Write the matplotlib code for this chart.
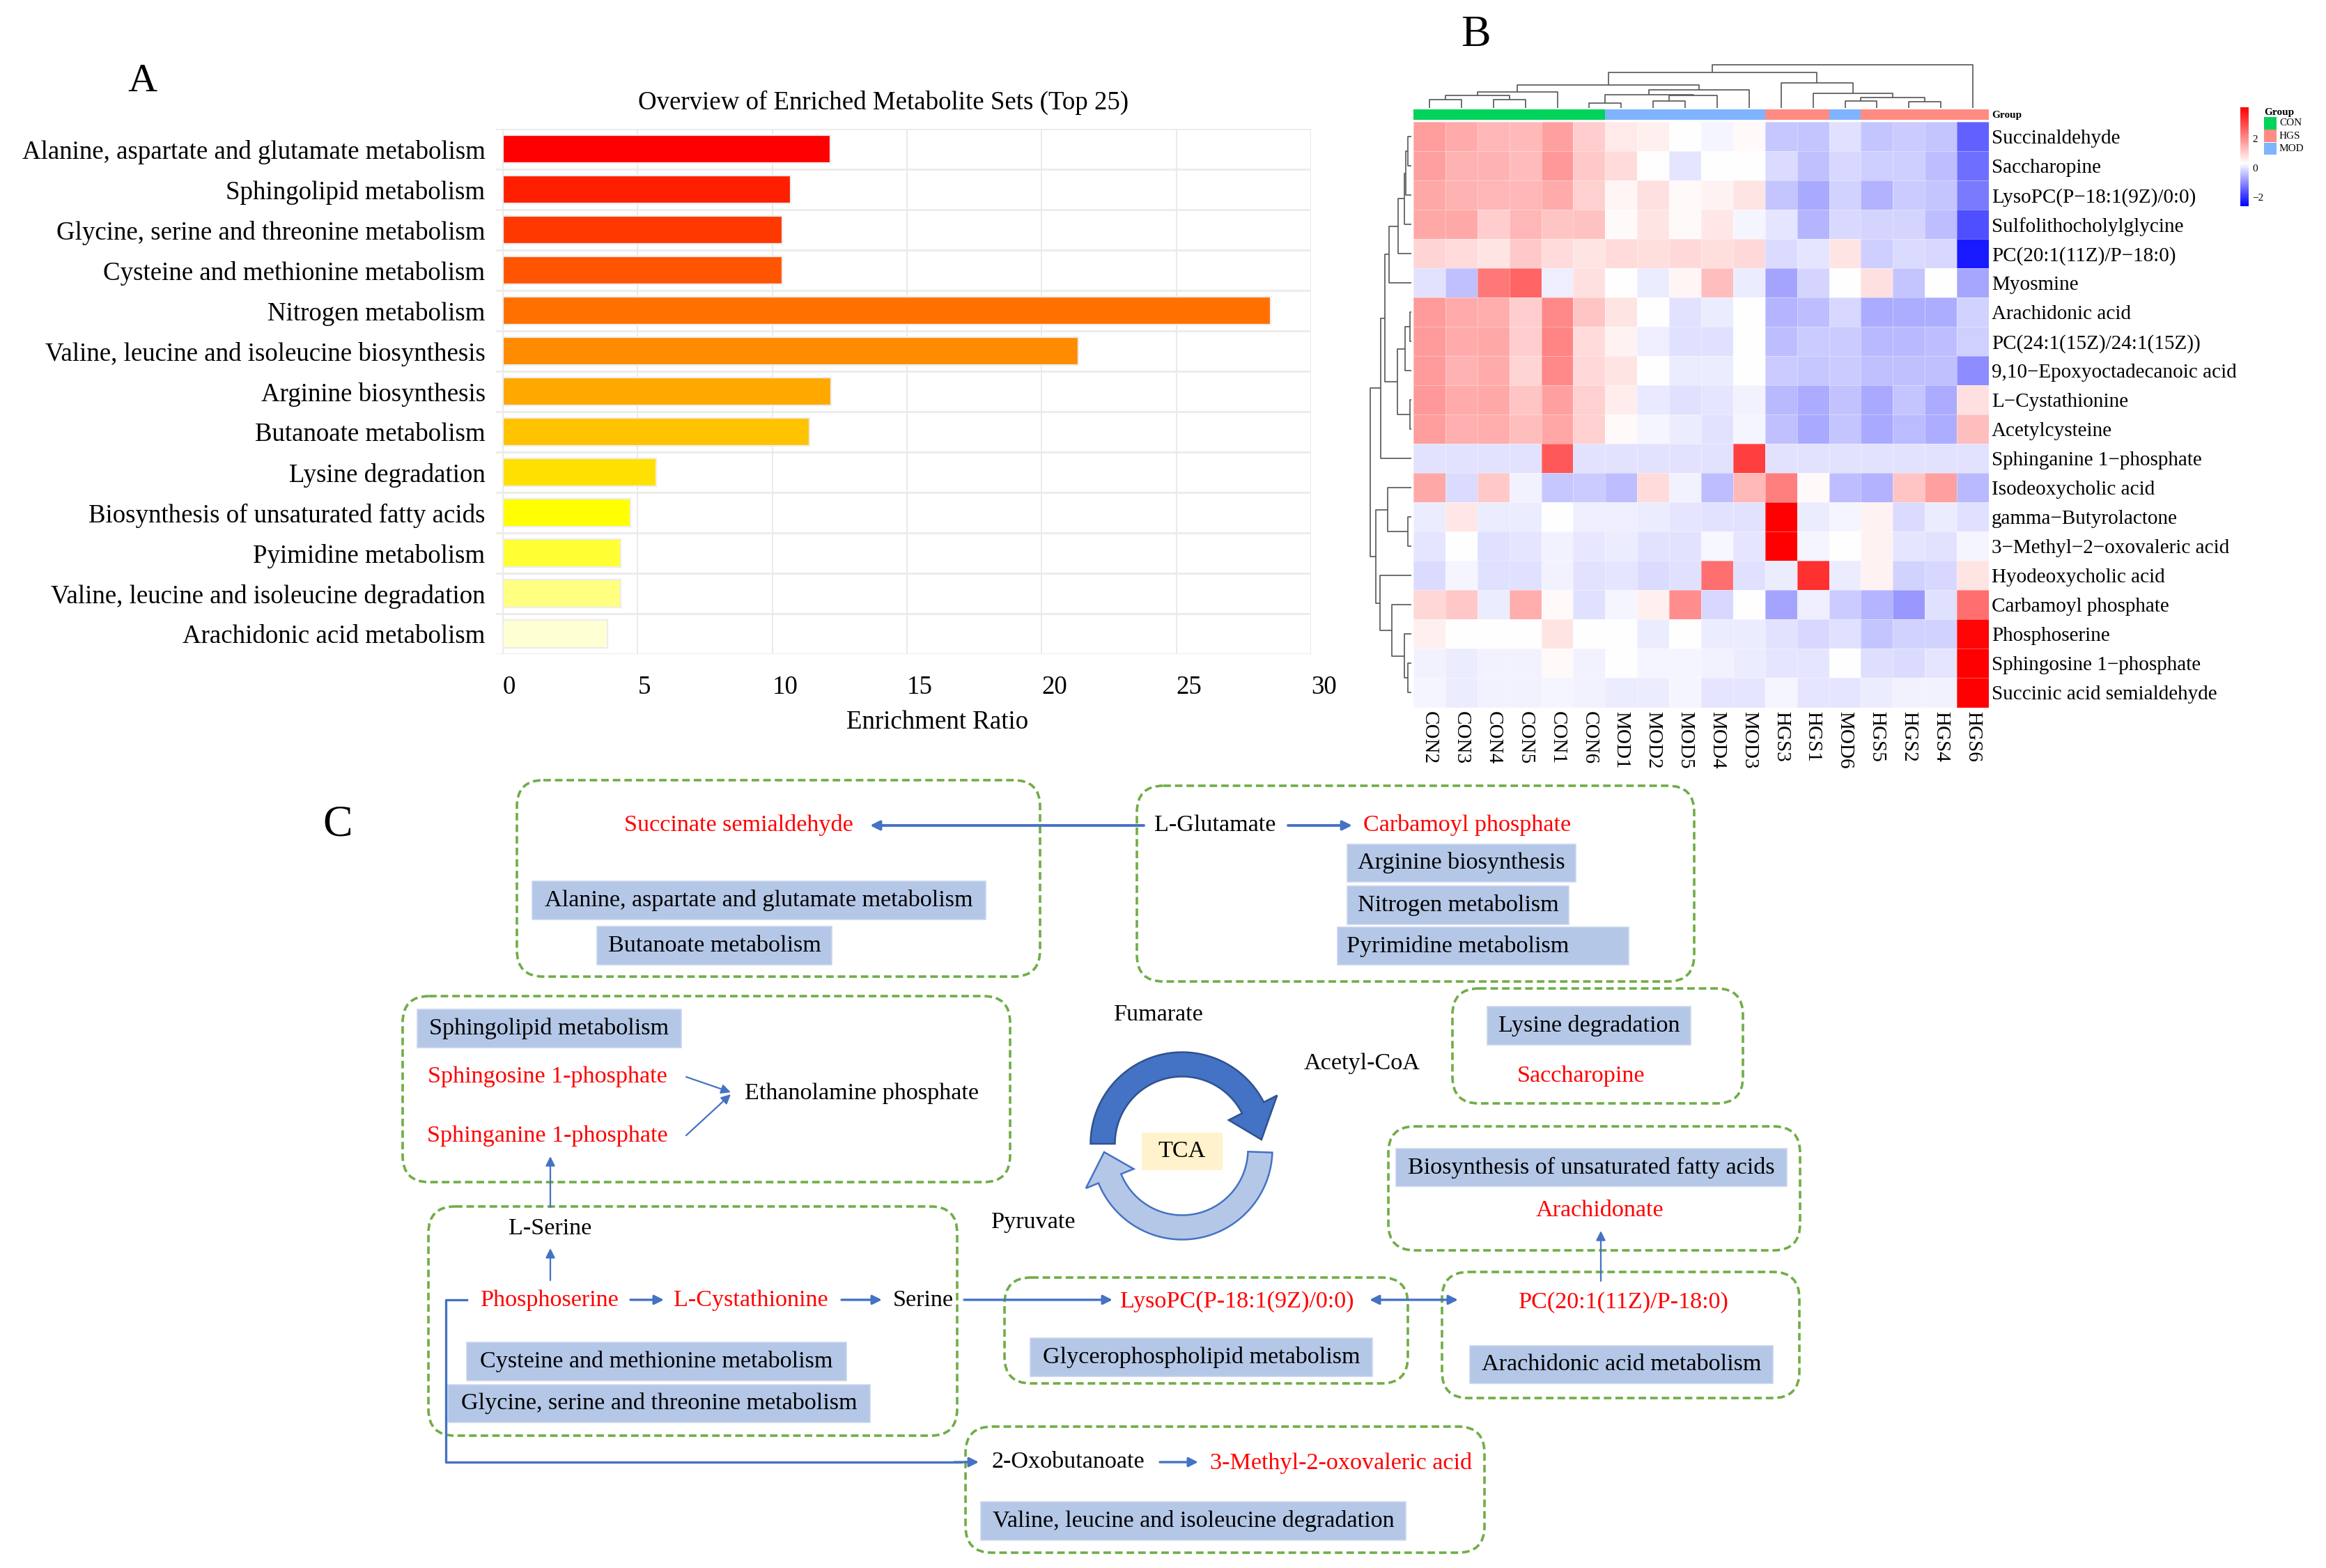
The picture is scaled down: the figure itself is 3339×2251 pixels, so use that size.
import numpy as np
import matplotlib
matplotlib.use('Agg')
import matplotlib.pyplot as plt
from matplotlib.colors import LinearSegmentedColormap, Normalize
from matplotlib.cm import ScalarMappable
from matplotlib.patches import FancyBboxPatch, Rectangle, Polygon

plt.rcParams['font.family'] = ['Liberation Serif', 'DejaVu Serif']

# ---------------- data: panel A ----------------
pathways = ["Alanine, aspartate and glutamate metabolism", "Sphingolipid metabolism",
            "Glycine, serine and threonine metabolism", "Cysteine and methionine metabolism",
            "Nitrogen metabolism", "Valine, leucine and isoleucine biosynthesis",
            "Arginine biosynthesis", "Butanoate metabolism", "Lysine degradation",
            "Biosynthesis of unsaturated fatty acids", "Pyimidine metabolism",
            "Valine, leucine and isoleucine degradation", "Arachidonic acid metabolism"]
enrichment = [12.15, 10.68, 10.36, 10.36, 28.5, 21.35, 12.17, 11.39, 5.70, 4.73, 4.37, 4.37, 3.89]
bar_colors = ["#FF0000", "#FF1E00", "#FF3800", "#FF5500", "#FF7000", "#FF8C00", "#FFA800",
              "#FFC300", "#FFE000", "#FFFF00", "#FFFF33", "#FFFF80", "#FFFFD4"]
x_ticks = [0, 5, 10, 15, 20, 25, 30]

# ---------------- data: panel B ----------------
samples = ["CON2", "CON3", "CON4", "CON5", "CON1", "CON6", "MOD1", "MOD2", "MOD5", "MOD4",
           "MOD3", "HGS3", "HGS1", "MOD6", "HGS5", "HGS2", "HGS4", "HGS6"]
sample_group = ["CON"] * 6 + ["MOD"] * 5 + ["HGS", "HGS", "MOD", "HGS", "HGS", "HGS", "HGS", "HGS"]
group_colors = {"CON": "#00D25A", "HGS": "#FF8C82", "MOD": "#80B4FF"}
M = "\u2212"
metabolites = ["Succinaldehyde", "Saccharopine", f"LysoPC(P{M}18:1(9Z)/0:0)",
               "Sulfolithocholylglycine", f"PC(20:1(11Z)/P{M}18:0)", "Myosmine",
               "Arachidonic acid", "PC(24:1(15Z)/24:1(15Z))", f"9,10{M}Epoxyoctadecanoic acid",
               f"L{M}Cystathionine", "Acetylcysteine", "Sphinganine 1\u2212phosphate",
               "Isodeoxycholic acid", f"gamma{M}Butyrolactone", f"3{M}Methyl{M}2{M}oxovaleric acid",
               "Hyodeoxycholic acid", "Carbamoyl phosphate", "Phosphoserine",
               "Sphingosine 1\u2212phosphate", "Succinic acid semialdehyde"]
zscores = [
    [1.75, 1.55, 1.4, 1.35, 1.7, 1.06, 0.64, 0.52, 0.28, 0.2, 0.4, -0.34, -0.37, -0.05, -0.37, -0.28, -0.35, -1.5],
    [1.7, 1.45, 1.45, 1.3, 1.83, 1.1, 0.83, 0.3, 0.01, 0.3, 0.3, -0.1, -0.42, -0.16, -0.25, -0.25, -0.43, -1.32],
    [1.6, 1.45, 1.4, 1.4, 1.55, 1.0, 0.45, 0.77, 0.4, 0.5, 0.7, -0.35, -0.67, -0.21, -0.57, -0.28, -0.35, -1.19],
    [1.6, 1.6, 1.05, 1.4, 1.17, 1.2, 0.38, 0.7, 0.38, 0.65, 0.2, 0.01, -0.55, -0.12, -0.18, -0.18, -0.45, -1.7],
    [0.94, 0.83, 0.72, 1.1, 0.83, 0.7, 0.83, 0.8, 0.88, 0.8, 0.88, -0.1, 0.01, 0.72, -0.25, -0.1, -0.16, -2.3],
    [-0.02, -0.42, 2.3, 2.6, 0.1, 0.77, 0.3, 0.08, 0.45, 1.25, 0.08, -0.74, -0.18, 0.3, 0.77, -0.37, 0.3, -0.69],
    [1.78, 1.55, 1.53, 1.06, 2.07, 1.17, 0.72, 0.28, -0.02, 0.08, 0.3, -0.55, -0.43, -0.16, -0.65, -0.63, -0.63, -0.21],
    [1.78, 1.55, 1.6, 1.06, 2.13, 0.85, 0.5, 0.1, -0.05, -0.05, 0.3, -0.45, -0.28, -0.28, -0.5, -0.5, -0.43, -0.22],
    [1.78, 1.45, 1.55, 0.94, 2.07, 0.88, 0.72, 0.28, 0.08, 0.08, 0.3, -0.28, -0.33, -0.28, -0.42, -0.42, -0.42, -0.98],
    [1.83, 1.55, 1.6, 1.17, 1.7, 1.0, 0.58, 0.05, -0.05, 0.01, 0.15, -0.5, -0.65, -0.4, -0.67, -0.37, -0.65, 0.75],
    [1.75, 1.5, 1.53, 1.25, 1.62, 1.0, 0.4, 0.2, 0.08, -0.02, 0.2, -0.42, -0.67, -0.37, -0.67, -0.47, -0.63, 1.25],
    [-0.02, -0.02, -0.02, -0.02, 2.77, -0.02, -0.02, -0.02, -0.02, -0.02, 3.15, -0.02, -0.02, -0.02, -0.02, -0.02, -0.02, -0.02],
    [1.6, -0.1, 1.1, 0.15, -0.33, -0.28, -0.45, 0.83, 0.15, -0.43, 1.35, 2.2, 0.4, -0.43, -0.57, 1.17, 1.7, -0.5],
    [0.08, 0.65, 0.08, 0.08, 0.28, 0.1, 0.1, 0.08, 0.01, -0.02, -0.02, 4.1, 0.08, 0.2, 0.5, -0.1, 0.08, -0.05],
    [0.01, 0.3, -0.05, 0.01, 0.15, 0.03, 0.08, -0.02, -0.02, 0.22, 0.01, 4.1, 0.2, 0.28, 0.5, 0.01, -0.02, 0.2],
    [-0.1, 0.2, -0.05, -0.05, 0.15, -0.02, 0.01, -0.1, -0.05, 2.43, -0.05, 0.08, 3.38, 0.08, 0.5, -0.21, -0.14, 0.72],
    [0.9, 1.12, 0.08, 1.53, 0.4, -0.05, 0.2, 0.52, 2.0, -0.16, 0.3, -0.74, 0.1, -0.28, -0.55, -0.85, -0.05, 2.43],
    [0.52, 0.28, 0.32, 0.32, 0.72, 0.3, 0.28, 0.08, 0.3, 0.08, 0.08, -0.02, -0.16, -0.05, -0.35, -0.21, -0.21, 4.0],
    [0.15, 0.08, 0.15, 0.15, 0.4, 0.15, 0.3, 0.2, 0.2, 0.15, 0.08, 0.01, 0.01, 0.3, -0.08, -0.1, 0.01, 4.1],
    [0.2, 0.08, 0.15, 0.15, 0.2, 0.15, 0.08, 0.08, 0.2, 0.01, 0.01, 0.2, 0.01, 0.01, 0.08, 0.15, 0.15, 4.1],
]
# dendrogram merges (child_a, child_b, height); leaves are display positions
col_merges = [(0, 1, 11.7), (2, 3, 11.7), (18, 19, 17.7), (20, 4, 23.3), (5, 6, 7.3),
              (7, 8, 10.0), (23, 9, 17.7), (22, 24, 19.3), (25, 10, 25.7), (21, 26, 33.3),
              (13, 14, 10.0), (15, 16, 9.3), (28, 29, 15.0), (12, 30, 21.0), (11, 31, 35.7),
              (27, 32, 51.0), (33, 17, 61.7)]
row_merges = [(0, 1, 17), (20, 2, 25), (21, 3, 32), (22, 4, 60), (23, 5, 100),
              (6, 7, 7), (25, 8, 27), (9, 10, 7), (26, 27, 62), (24, 28, 119), (29, 11, 139),
              (13, 14, 17), (12, 31, 107), (18, 19, 17), (17, 33, 32), (16, 34, 89),
              (15, 35, 142), (32, 36, 162), (30, 37, 187)]
cbar_ticks = [-2, 0, 2]

# ---------------- figure ----------------
W, H, DPI = 3339, 2251, 200
fig = plt.figure(figsize=(W / DPI, H / DPI), dpi=DPI)


def rect(x0, y0, x1, y1):
    return [x0 / W, 1 - y1 / H, (x1 - x0) / W, (y1 - y0) / H]


# ---------------- panel A ----------------
axA = fig.add_axes(rect(712, 185, 1882, 939))
ypos = np.arange(len(pathways))
axA.barh(ypos, enrichment, height=0.68, color=bar_colors, edgecolor='#EDEDED', linewidth=0.8, zorder=3)
axA.set_xlim(-0.26, 30)
axA.set_ylim(len(pathways) - 0.5, -0.5)
axA.set_yticks(ypos)
axA.set_yticklabels(pathways, fontsize=13.3)
axA.set_yticks(np.arange(-0.5, len(pathways) + 0.5, 1), minor=True)
axA.set_xticks(x_ticks)
axA.set_xticklabels([str(v) for v in x_ticks], fontsize=13.3)
for lab in axA.get_xticklabels():
    lab.set_ha('left')
axA.tick_params(axis='both', which='both', length=0)
axA.tick_params(axis='y', pad=5.5)
axA.tick_params(axis='x', pad=11)
axA.grid(axis='x', which='major', color='#E6E6E6', lw=0.6)
axA.grid(axis='y', which='minor', color='#EBEBEB', lw=1.0)
axA.set_axisbelow(True)
for s in axA.spines.values():
    s.set_visible(False)
axA.set_xlabel("Enrichment Ratio", fontsize=13.3)
axA.xaxis.set_label_coords((1346 - 712) / 1170, (939 - 1020) / 754)
fig.text(1268 / W, 1 - 147 / H, "Overview of Enriched Metabolite Sets (Top 25)", fontsize=13.3,
         ha='center', va='center')

# ---------------- panel B ----------------
cmap = LinearSegmentedColormap.from_list('ph', [(0, '#0000FF'), (0.433, '#FFFFFF'), (1, '#FF0000')])
norm = Normalize(vmin=-2.6, vmax=4.1)
data = np.array(zscores)
nr, nc = data.shape

axH = fig.add_axes(rect(2029, 175, 2855, 1015.5))
axH.pcolormesh(np.arange(nc + 1), np.arange(nr + 1), data, cmap=cmap, norm=norm,
               edgecolors=(1, 1, 1, 0.35), linewidth=0.3)
axH.set_xlim(0, nc)
axH.set_ylim(nr, 0)
axH.set_yticks(np.arange(nr) + 0.5)
axH.set_yticklabels(metabolites, fontsize=10.5)
axH.yaxis.tick_right()
axH.set_xticks(np.arange(nc) + 0.5)
axH.set_xticklabels(samples, fontsize=10.5, rotation=-90)
axH.tick_params(axis='both', length=0)
axH.tick_params(axis='y', pad=1.5)
axH.tick_params(axis='x', pad=2)
for s in axH.spines.values():
    s.set_visible(False)

# group annotation bar
axG = fig.add_axes(rect(2029, 156.5, 2855, 172))
axG.bar(np.arange(nc), 1, width=1, align='edge', color=[group_colors[g] for g in sample_group], linewidth=0)
axG.set_xlim(0, nc)
axG.set_ylim(0, 1)
axG.axis('off')
fig.text(2859 / W, 1 - 165 / H, "Group", fontsize=5.5, fontweight='bold', ha='left', va='center')


def draw_dendro(ax, merges, n, orient):
    pos = {i: i + 0.5 for i in range(n)}
    hgt = {i: 0.0 for i in range(n)}
    for k, (a, b, h) in enumerate(merges):
        pa, pb = pos[a], pos[b]
        xs = [pa, pa, pb, pb]
        ys = [hgt[a], h, h, hgt[b]]
        if orient == 'top':
            ax.plot(xs, ys, color='#555555', lw=0.6, solid_capstyle='butt')
        else:
            ax.plot(ys, xs, color='#555555', lw=0.6, solid_capstyle='butt')
        pos[n + k] = (pa + pb) / 2
        hgt[n + k] = h


axDc = fig.add_axes(rect(2029, 92, 2855, 155))
draw_dendro(axDc, col_merges, nc, 'top')
axDc.set_xlim(0, nc)
axDc.set_ylim(0, 63)
axDc.axis('off')

axDr = fig.add_axes(rect(1966, 175, 2026, 1015.5))
draw_dendro(axDr, row_merges, nr, 'left')
axDr.set_ylim(nr, 0)
axDr.set_xlim(189, 0)
axDr.axis('off')

# colour legend
axC = fig.add_axes(rect(3216, 154, 3228, 296))
cb = fig.colorbar(ScalarMappable(norm=norm, cmap=cmap), cax=axC, ticks=cbar_ticks)
cb.outline.set_visible(False)
axC.tick_params(length=0, labelsize=5.5, pad=2)

# ---------------- overlay (panel C, labels) ----------------
ov = fig.add_axes([0, 0, 1, 1])
ov.set_xlim(0, W)
ov.set_ylim(H, 0)
ov.axis('off')
ov.patch.set_visible(False)

ov.text(204, 117, "A", fontsize=21, ha='center', va='center')
ov.text(2118, 51, "B", fontsize=23, ha='center', va='center')
ov.text(485, 1185, "C", fontsize=23, ha='center', va='center')

# group legend
ov.text(3250, 161, "Group", fontsize=5.5, fontweight='bold', ha='left', va='center')
for i, g in enumerate(["CON", "HGS", "MOD"]):
    y0 = 168 + i * 18.3
    ov.add_patch(Rectangle((3250, y0), 18, 17.5, color=group_colors[g], lw=0))
    ov.text(3272, y0 + 9, g, fontsize=5.5, ha='left', va='center')

GREEN = '#70AD47'
BLUE = '#4472C4'
FILL = '#B4C7E7'
RED = '#FF0000'
FS = 12.3

dashed_boxes = [(742, 1120, 1493, 1402), (1632, 1128, 2432, 1409), (578, 1430, 1450, 1697),
                (2085, 1419, 2502, 1584), (1993, 1617, 2584, 1795), (615, 1732, 1374, 2061),
                (1442, 1834, 2021, 1986), (2070, 1826, 2583, 2007), (1386, 2048, 2131, 2229)]
for x0, y0, x1, y1 in dashed_boxes:
    ov.add_patch(FancyBboxPatch((x0, y0), x1 - x0, y1 - y0, boxstyle="round,pad=0,rounding_size=38",
                                fill=False, ec=GREEN, lw=1.3, ls=(0, (3, 1.6))))

label_boxes = [
    (764, 1265, 1415, 1320, "Alanine, aspartate and glutamate metabolism", None),
    (857, 1330, 1194, 1385, "Butanoate metabolism", None),
    (1934, 1212, 2262, 1266, "Arginine biosynthesis", None),
    (1934, 1272, 2252, 1327, "Nitrogen metabolism", None),
    (1920, 1331, 2338, 1385, "Pyrimidine metabolism", 2093),
    (599, 1449, 978, 1504, "Sphingolipid metabolism", None),
    (2135, 1445, 2427, 1500, "Lysine degradation", None),
    (2004, 1649, 2565, 1703, "Biosynthesis of unsaturated fatty acids", None),
    (670, 1927, 1215, 1982, "Cysteine and methionine metabolism", None),
    (643, 1988, 1249, 2042, "Glycine, serine and threonine metabolism", None),
    (1479, 1921, 1970, 1976, "Glycerophospholipid metabolism", None),
    (2110, 1932, 2545, 1986, "Arachidonic acid metabolism", None),
    (1408, 2156, 2018, 2211, "Valine, leucine and isoleucine degradation", None),
]
for x0, y0, x1, y1, txt, tx in label_boxes:
    ov.add_patch(Rectangle((x0, y0), x1 - x0, y1 - y0, fc=FILL, ec='#C9D6EE', lw=0.6))
    ov.text(tx if tx else (x0 + x1) / 2, (y0 + y1) / 2, txt, fontsize=FS, ha='center', va='center')

free_texts = [
    (1060, 1185, "Succinate semialdehyde", RED), (1744, 1185, "L-Glutamate", 'black'),
    (2106, 1185, "Carbamoyl phosphate", RED), (786, 1546, "Sphingosine 1-phosphate", RED),
    (786, 1631, "Sphinganine 1-phosphate", RED), (1237, 1570, "Ethanolamine phosphate", 'black'),
    (1663, 1457, "Fumarate", 'black'), (1955, 1527, "Acetyl-CoA", 'black'),
    (2269, 1545, "Saccharopine", RED), (2296, 1738, "Arachidonate", RED),
    (1484, 1755, "Pyruvate", 'black'), (790, 1764, "L-Serine", 'black'),
    (789, 1867, "Phosphoserine", RED), (1078, 1867, "L-Cystathionine", RED),
    (1325, 1867, "Serine", 'black'), (1776, 1869, "LysoPC(P-18:1(9Z)/0:0)", RED),
    (2331, 1870, "PC(20:1(11Z)/P-18:0)", RED), (1533, 2099, "2-Oxobutanoate", 'black'),
    (1925, 2101, "3-Methyl-2-oxovaleric acid", RED),
]
for x, y, txt, c in free_texts:
    ov.text(x, y, txt, fontsize=FS, color=c, ha='center', va='center')


def arrow(p0, p1, lw=1.0, style='-|>'):
    ov.annotate('', xy=p1, xytext=p0,
                arrowprops=dict(arrowstyle=style, color=BLUE, lw=lw, mutation_scale=10,
                                shrinkA=0, shrinkB=0))


arrow((1642, 1185), (1249, 1185), lw=1.4)
arrow((1849, 1185), (1941, 1185), lw=1.4)
arrow((985, 1546), (1049, 1568), lw=0.8)
arrow((985, 1630), (1049, 1571), lw=0.8)
arrow((790, 1838), (790, 1792), lw=0.8)
arrow((790, 1733), (790, 1660), lw=0.8)
arrow((905, 1866), (953, 1866), lw=1.2)
arrow((1208, 1866), (1266, 1866), lw=1.2)
arrow((1384, 1866), (1597, 1866), lw=1.2)
arrow((1966, 1866), (2093, 1866), lw=1.2, style='<|-|>')
arrow((2298, 1839), (2298, 1767), lw=0.8)
ov.plot([670, 640, 640, 1380], [1866, 1866, 2099, 2099], color=BLUE, lw=1.2)
arrow((1370, 2099), (1405, 2099), lw=1.2)
arrow((1665, 2099), (1720, 2099), lw=1.2)


def arc_arrow(cx, cy, r, w, th0, th1, th_tip, head_w, fc, ec):
    ts = np.radians(np.linspace(th0, th1, 80))
    outer = [(cx + (r + w / 2) * np.cos(t), cy - (r + w / 2) * np.sin(t)) for t in ts]
    inner = [(cx + (r - w / 2) * np.cos(t), cy - (r - w / 2) * np.sin(t)) for t in ts[::-1]]
    te, tt = np.radians(th1), np.radians(th_tip)
    head = [(cx + (r + head_w / 2) * np.cos(te), cy - (r + head_w / 2) * np.sin(te)),
            (cx + r * np.cos(tt), cy - r * np.sin(tt)),
            (cx + (r - head_w / 2) * np.cos(te), cy - (r - head_w / 2) * np.sin(te))]
    ov.add_patch(Polygon(outer + head + inner, closed=True, fc=fc, ec=ec, lw=0.9))


arc_arrow(1697, 1642, 114, 35, 180, 27, 3, 78, BLUE, '#2F528F')
arc_arrow(1697, 1650, 112, 35, -2, -158, -178, 74, FILL, BLUE)
ov.add_patch(Rectangle((1639, 1626), 116, 54, fc='#FFF2CC', ec='none'))
ov.text(1697, 1653, "TCA", fontsize=FS, ha='center', va='center')

fig.savefig('out.png', dpi=DPI)
